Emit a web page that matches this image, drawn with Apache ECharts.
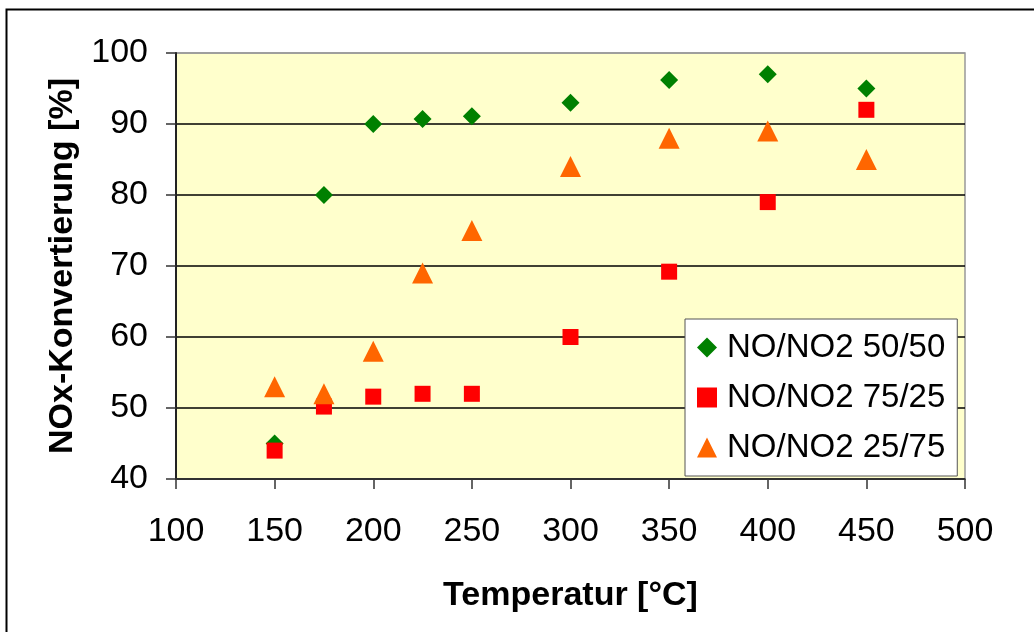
<!DOCTYPE html>
<html>
<head>
<meta charset="utf-8">
<script src="https://cdn.jsdelivr.net/npm/echarts@6/dist/echarts.min.js"></script>
<style>
html,body{margin:0;padding:0;background:#fff;}
#chart{width:1034px;height:632px;}
</style>
</head>
<body>
<div id="chart"></div>
<script>
const temperatures = [150, 175, 200, 225, 250, 300, 350, 400, 450];
const seriesNames = ['NO/NO2 50/50', 'NO/NO2 75/25', 'NO/NO2 25/75'];
const no50_50 = [45, 80, 90, 90.7, 91.1, 93, 96.2, 97, 95];
const no75_25 = [44, 50.2, 51.6, 52, 52, 60, 69.2, 79, 92];
const no25_75 = [53, 52, 58, 69, 75, 84, 88, 89, 85];
const xAxisTitle = 'Temperatur [°C]';
const yAxisTitle = 'NOx-Konvertierung [%]';

const FONT = '"Liberation Sans", Arial, sans-serif';
const pairs = vals => temperatures.map((t, i) => [t, vals[i]]);

const chart = echarts.init(document.getElementById('chart'), null, {renderer: 'canvas'});
chart.setOption({
  animation: false,
  backgroundColor: '#ffffff',
  textStyle: {fontFamily: FONT},
  graphic: [{
    type: 'rect', left: 4, top: 7, z: -10,
    shape: {width: 1200, height: 800},
    style: {fill: 'none', stroke: '#000', lineWidth: 2}
  }],
  grid: {
    left: 176, top: 53, width: 789, height: 426,
    show: true, backgroundColor: '#FFFFCC', borderColor: '#999', borderWidth: 1.5
  },
  legend: {
    orient: 'vertical',
    left: 685, top: 319,
    padding: [12, 12, 12, 12],
    itemGap: 17,
    itemWidth: 20, itemHeight: 20,
    backgroundColor: '#fff',
    borderColor: '#555', borderWidth: 1,
    textStyle: {fontSize: 33, color: '#000', fontFamily: FONT, padding: [0, 0, 0, 5]},
    data: [
      {name: seriesNames[0], icon: 'diamond'},
      {name: seriesNames[1], icon: 'rect'},
      {name: seriesNames[2], icon: 'triangle'}
    ]
  },
  xAxis: {
    type: 'value', min: 100, max: 500, interval: 50,
    name: xAxisTitle, nameLocation: 'middle', nameGap: 100,
    nameTextStyle: {fontSize: 34, fontWeight: 'bold', color: '#000', fontFamily: FONT},
    axisLine: {show: true, onZero: false, lineStyle: {color: '#333', width: 1.5}},
    axisTick: {show: true, inside: false, length: 10, lineStyle: {color: '#333', width: 1.5}},
    axisLabel: {fontSize: 34, color: '#000', margin: 36, fontFamily: FONT},
    splitLine: {show: false}
  },
  yAxis: {
    type: 'value', min: 40, max: 100, interval: 10,
    name: yAxisTitle, nameLocation: 'middle', nameGap: 96, nameRotate: 90,
    nameTextStyle: {fontSize: 34, fontWeight: 'bold', color: '#000', fontFamily: FONT},
    axisLine: {show: true, onZero: false, lineStyle: {color: '#222', width: 2}},
    axisTick: {show: true, inside: false, length: 10, lineStyle: {color: '#333', width: 1.5}},
    axisLabel: {fontSize: 34, color: '#000', margin: 28, fontFamily: FONT},
    splitLine: {show: true, lineStyle: {color: ['#000','#000','#000','#000','#000','#000','#999'], width: 1.5}}
  },
  series: [
    {name: seriesNames[0], type: 'scatter', symbol: 'diamond', symbolSize: 18,
     itemStyle: {color: '#008000', opacity: 1}, data: pairs(no50_50), z: 2},
    {name: seriesNames[1], type: 'scatter', symbol: 'rect', symbolSize: 16,
     itemStyle: {color: '#FF0000', opacity: 1}, data: pairs(no75_25), z: 3},
    {name: seriesNames[2], type: 'scatter', symbol: 'triangle', symbolSize: 21,
     itemStyle: {color: '#FF6600', opacity: 1}, data: pairs(no25_75), z: 4}
  ]
});
</script>
</body>
</html>
